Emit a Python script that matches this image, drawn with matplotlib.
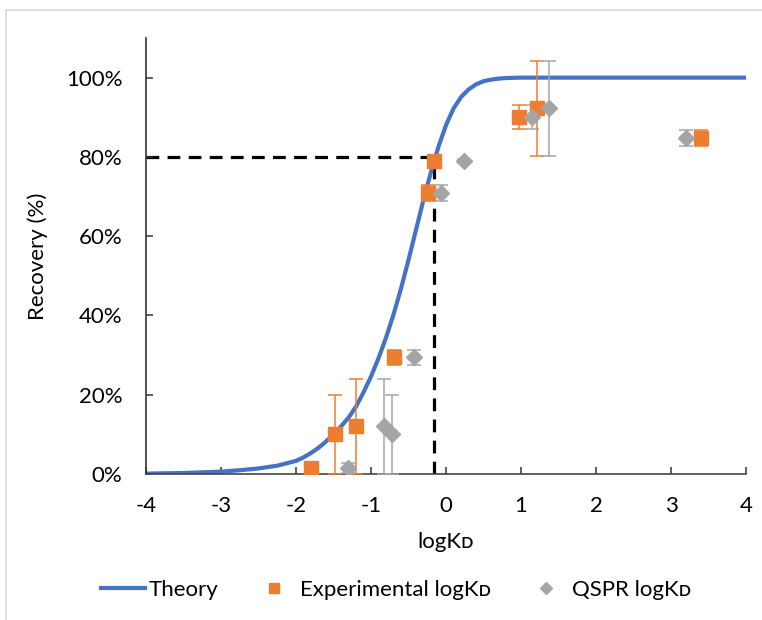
import matplotlib
matplotlib.use("Agg")
import matplotlib.pyplot as plt
from matplotlib.ticker import FuncFormatter
from matplotlib.lines import Line2D

plt.rcParams['font.family'] = ['Lato', 'DejaVu Sans']
plt.rcParams['axes.unicode_minus'] = False

# theory curve
theory_x = [-4.0, -3.5, -3.0, -2.75, -2.5, -2.25, -2.0, -1.9, -1.8, -1.7,
            -1.6, -1.5, -1.4, -1.3, -1.2, -1.1, -1.0, -0.9, -0.8, -0.7,
            -0.6, -0.5, -0.4, -0.3, -0.2, -0.1, 0.0, 0.1, 0.2, 0.3,
            0.4, 0.5, 0.6, 0.7, 0.8, 1.0, 1.5, 2.0, 3.0, 4.0]
theory_y = [0.1, 0.25, 0.6, 0.95, 1.4, 2.1, 3.3, 4.2, 5.3, 6.6,
            8.2, 10.0, 12.0, 14.2, 17.0, 20.6, 24.6, 29.2, 34.4, 40.2,
            46.8, 54.0, 61.6, 69.2, 76.2, 82.6, 88.0, 92.2, 95.1, 97.0,
            98.3, 99.1, 99.5, 99.75, 99.9, 100.0, 100.0, 100.0, 100.0, 100.0]

recovery = [1.5, 10.0, 12.0, 29.5, 71.0, 79.0, 90.0, 92.3, 84.7]
recovery_err = [1.2, 10.0, 12.0, 1.9, 2.0, 0.5, 3.0, 12.0, 2.0]
exp_logkd = [-1.80, -1.48, -1.20, -0.69, -0.24, -0.16, 0.97, 1.21, 3.40]
qspr_logkd = [-1.31, -0.72, -0.83, -0.43, -0.07, 0.24, 1.15, 1.37, 3.20]

target_recovery = 80
target_logkd = -0.16

blue = "#4472C4"
orange = "#ED7D31"
grey = "#A5A5A5"

fig = plt.figure(figsize=(7.62, 6.2), dpi=100)
ax = fig.add_axes([146 / 762, 1 - 474 / 620, 600 / 762, 436 / 620])

ax.plot([-4, target_logkd], [target_recovery, target_recovery], color="black",
        lw=2.3, ls=(0, (4, 2.6)), zorder=1)
ax.plot([target_logkd, target_logkd], [0, target_recovery], color="black",
        lw=2.3, ls=(0, (4, 2.6)), zorder=1)

ax.plot(theory_x, theory_y, color=blue, lw=3, zorder=2)

ax.errorbar(exp_logkd, recovery, yerr=recovery_err, fmt="s", color=orange,
            ms=10, ecolor=orange, elinewidth=1.1, capsize=5, capthick=1.1,
            zorder=3)
ax.errorbar(qspr_logkd, recovery, yerr=recovery_err, fmt="D", color=grey,
            ms=8.5, ecolor=grey, elinewidth=1.1, capsize=5, capthick=1.1,
            zorder=3)

ax.set_xlim(-4, 4)
ax.set_ylim(0, 110)
ax.set_xticks(range(-4, 5))
ax.set_yticks(range(0, 101, 20))
ax.yaxis.set_major_formatter(FuncFormatter(lambda v, p: f"{v:.0f}%"))
for s in ["top", "right"]:
    ax.spines[s].set_visible(False)
ax.spines["left"].set_color("#333333")
ax.spines["bottom"].set_color("#444444")
ax.spines["left"].set_linewidth(1.2)
ax.spines["bottom"].set_linewidth(1.2)
ax.tick_params(axis="both", direction="in", length=5, width=1.1,
               colors="#333333", labelcolor="black", labelsize=16)
ax.tick_params(axis="y", pad=17)
ax.tick_params(axis="x", pad=16)

ax.set_xlabel("logKᴅ", fontsize=16, labelpad=11)
ax.set_ylabel("Recovery (%)", fontsize=16, labelpad=13)

handles = [
    Line2D([], [], color=blue, lw=3),
    Line2D([], [], color=orange, marker="s", ls="none", ms=7.5),
    Line2D([], [], color=grey, marker="D", ls="none", ms=6.5),
]
labels = ["Theory", "Experimental logKᴅ", "QSPR logKᴅ"]
fig.legend(handles, labels, loc="center", ncol=3, frameon=False, fontsize=16,
           bbox_to_anchor=(396 / 762, 1 - 590 / 620), handlelength=2.0,
           columnspacing=1.5, handletextpad=0.15)

# chart area outline
fig.add_artist(Line2D([6 / 762, 6 / 762], [0, 1 - 10 / 620],
                      color="#d9d9d9", lw=1.2))
fig.add_artist(Line2D([6 / 762, 1], [1 - 10 / 620, 1 - 10 / 620],
                      color="#d9d9d9", lw=1.2))

fig.savefig("out.png", dpi=100)
